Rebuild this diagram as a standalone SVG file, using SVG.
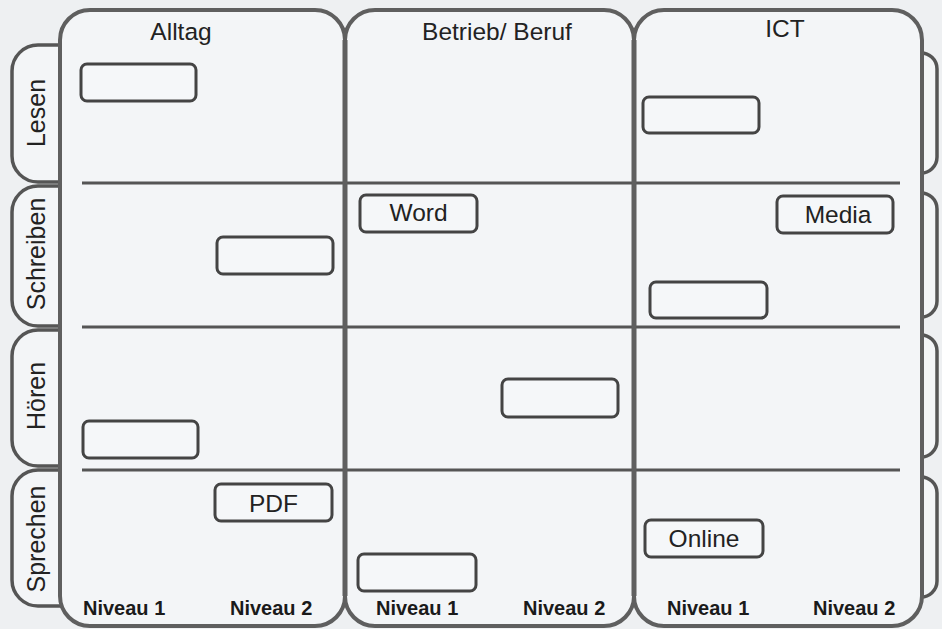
<svg xmlns="http://www.w3.org/2000/svg" width="942" height="629" viewBox="0 0 942 629">
<style>
.bg{fill:#eef0f2}
.col{fill:#f3f5f7;stroke:#5f5f5f;stroke-width:4}
.tab{fill:#f3f5f7;stroke:#555;stroke-width:3.5}
.rtab{fill:#f3f5f7;stroke:#555;stroke-width:3.5}
.sep{stroke:#555;stroke-width:3;fill:none}
.box{fill:#f5f7f9;stroke:#444;stroke-width:3}
.t{font-family:"Liberation Sans",Arial,sans-serif;fill:#222;font-size:24.5px}
.lbl{font-family:"Liberation Sans",Arial,sans-serif;fill:#222;font-size:25px;text-anchor:middle}
.niv{font-family:"Liberation Sans",Arial,sans-serif;fill:#1a1a1a;font-size:20px;font-weight:bold}
</style>
<rect class="bg" x="0" y="0" width="942" height="629"/>

<g id="tabs-left">
<g id="tab-lesen"><path class="tab" d="M62,45 H38 A26,26 0 0 0 12,71 V156 A26,26 0 0 0 38,182 H62"/>
<text class="lbl" transform="translate(45,113) rotate(-90)">Lesen</text></g>
<g id="tab-schreiben"><path class="tab" d="M62,186 H38 A26,26 0 0 0 12,212 V300 A26,26 0 0 0 38,326 H62"/>
<text class="lbl" transform="translate(45,254) rotate(-90)">Schreiben</text></g>
<g id="tab-hoeren"><path class="tab" d="M62,330 H38 A26,26 0 0 0 12,356 V440 A26,26 0 0 0 38,466 H62"/>
<text class="lbl" transform="translate(45,396) rotate(-90)">Hören</text></g>
<g id="tab-sprechen"><path class="tab" d="M62,470 H38 A26,26 0 0 0 12,496 V580 A26,26 0 0 0 38,606 H62"/>
<text class="lbl" transform="translate(45,539) rotate(-90)">Sprechen</text></g>
</g>

<g id="tabs-right">
<path class="rtab" d="M920,53 A16,16 0 0 1 937,69 V157 A16,16 0 0 1 920,173"/>
<path class="rtab" d="M920,193 A16,16 0 0 1 937,209 V301 A16,16 0 0 1 920,317"/>
<path class="rtab" d="M920,335 A16,16 0 0 1 937,351 V441 A16,16 0 0 1 920,457"/>
<path class="rtab" d="M920,477 A16,16 0 0 1 937,493 V581 A16,16 0 0 1 920,597"/>
</g>

<g id="col-alltag">
<rect class="col" x="60" y="10" width="285" height="616" rx="30"/>
<text class="t" x="181" y="40" text-anchor="middle">Alltag</text>
<text class="niv" x="83" y="615">Niveau 1</text>
<text class="niv" x="230" y="615">Niveau 2</text>
</g>
<g id="col-betrieb">
<rect class="col" x="345" y="10" width="289" height="616" rx="30"/>
<text class="t" x="497" y="40" text-anchor="middle">Betrieb/ Beruf</text>
<text class="niv" x="376" y="615">Niveau 1</text>
<text class="niv" x="523" y="615">Niveau 2</text>
</g>
<g id="col-ict">
<rect class="col" x="634" y="10" width="288" height="616" rx="30"/>
<text class="t" x="785" y="37" text-anchor="middle">ICT</text>
<text class="niv" x="667" y="615">Niveau 1</text>
<text class="niv" x="813" y="615">Niveau 2</text>
</g>

<g id="row-lines">
<line class="sep" x1="82" y1="183" x2="900" y2="183"/>
<line class="sep" x1="82" y1="327" x2="900" y2="327"/>
<line class="sep" x1="82" y1="470" x2="900" y2="470"/>
</g>
<g id="col-borders">
<line x1="345" y1="40" x2="345" y2="596" stroke="#5f5f5f" stroke-width="5"/>
<line x1="634" y1="40" x2="634" y2="596" stroke="#5f5f5f" stroke-width="5"/>
</g>

<g id="box-alltag-lesen"><rect class="box" x="81" y="64" width="115" height="37" rx="6"/></g>
<g id="box-alltag-schreiben"><rect class="box" x="217" y="237" width="116" height="37" rx="6"/></g>
<g id="box-alltag-hoeren"><rect class="box" x="83" y="421" width="115" height="37" rx="6"/></g>
<g id="box-pdf"><rect class="box" x="215" y="484" width="117" height="37" rx="6"/>
<text class="t" x="273.5" y="512" text-anchor="middle">PDF</text></g>
<g id="box-word"><rect class="box" x="360" y="195" width="117" height="37" rx="6"/>
<text class="t" x="418.5" y="221" text-anchor="middle">Word</text></g>
<g id="box-betrieb-hoeren"><rect class="box" x="502" y="379" width="116" height="38" rx="6"/></g>
<g id="box-betrieb-sprechen"><rect class="box" x="358" y="554" width="118" height="37" rx="6"/></g>
<g id="box-ict-lesen"><rect class="box" x="643" y="97" width="116" height="36" rx="6"/></g>
<g id="box-media"><rect class="box" x="777" y="196" width="116" height="37" rx="6"/>
<text class="t" x="838" y="223" text-anchor="middle">Media</text></g>
<g id="box-ict-schreiben"><rect class="box" x="650" y="282" width="117" height="36" rx="6"/></g>
<g id="box-online"><rect class="box" x="645" y="520" width="118" height="37" rx="6"/>
<text class="t" x="704" y="547" text-anchor="middle">Online</text></g>
</svg>
